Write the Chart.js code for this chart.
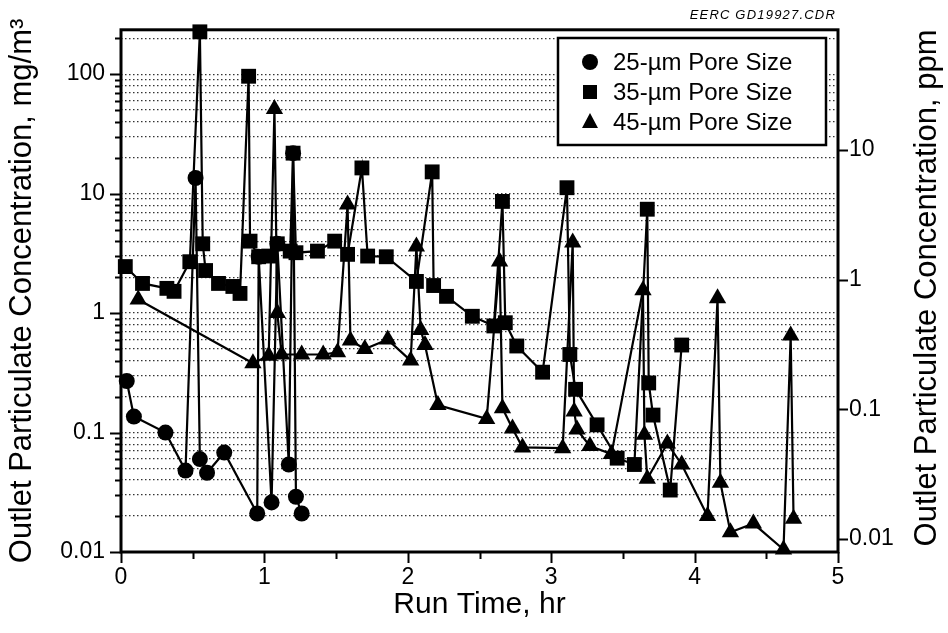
<!DOCTYPE html>
<html>
<head>
<meta charset="utf-8">
<script src="https://cdn.jsdelivr.net/npm/chart.js@4.4.0/dist/chart.umd.min.js"></script>
<style>
  html, body { margin: 0; padding: 0; background: #fff; }
</style>
</head>
<body>
<canvas id="chart" width="948" height="633"></canvas>
<script>
// run time (hr) and outlet concentration (mg/m3) per filter
const circleTime = [0.04, 0.09, 0.31, 0.45, 0.52, 0.55, 0.60, 0.72, 0.95, 0.96, 1.05, 1.09, 1.17, 1.20, 1.22, 1.26];
const circleConc = [0.27, 0.136, 0.10, 0.048, 13.5, 0.06, 0.046, 0.068, 0.021, 2.96, 0.026, 3.8, 0.054, 21.8, 0.029, 0.021];

const squareTime = [0.03, 0.15, 0.32, 0.37, 0.48, 0.55, 0.57, 0.59, 0.68, 0.78, 0.83, 0.89, 0.90, 0.96, 1.03, 1.09, 1.18, 1.20, 1.22, 1.37, 1.49, 1.58, 1.68, 1.72, 1.85, 2.06, 2.17, 2.18, 2.27, 2.45, 2.60, 2.66, 2.68, 2.76, 2.94, 3.11, 3.13, 3.17, 3.32, 3.46, 3.58, 3.67, 3.68, 3.71, 3.83, 3.91];
const squareConc = [2.45, 1.77, 1.61, 1.52, 2.69, 226, 3.8, 2.27, 1.77, 1.67, 1.46, 96, 4.0, 2.96, 3.0, 3.8, 3.3, 21.8, 3.2, 3.3, 4.0, 3.1, 16.4, 3.0, 2.96, 1.84, 15.2, 1.70, 1.38, 0.94, 0.78, 8.6, 0.83, 0.53, 0.32, 11.2, 0.45, 0.23, 0.116, 0.061, 0.054, 7.4, 0.26, 0.14, 0.033, 0.54];

const triTime = [0.12, 0.92, 1.03, 1.07, 1.09, 1.12, 1.26, 1.41, 1.51, 1.58, 1.60, 1.70, 1.86, 2.02, 2.06, 2.09, 2.12, 2.21, 2.55, 2.64, 2.66, 2.73, 2.80, 3.08, 3.15, 3.16, 3.18, 3.27, 3.42, 3.64, 3.65, 3.67, 3.81, 3.91, 4.09, 4.16, 4.18, 4.25, 4.41, 4.62, 4.67, 4.69];
const triConc = [1.3, 0.38, 0.44, 51, 1.0, 0.45, 0.45, 0.45, 0.47, 8.1, 0.59, 0.50, 0.60, 0.40, 3.6, 0.72, 0.54, 0.17, 0.13, 2.7, 0.16, 0.108, 0.075, 0.074, 3.9, 0.15, 0.106, 0.077, 0.066, 1.55, 0.096, 0.041, 0.081, 0.054, 0.020, 1.33, 0.038, 0.0146, 0.0173, 0.0105, 0.65, 0.019];

const seriesNames = ['25-\u00b5m Pore Size', '35-\u00b5m Pore Size', '45-\u00b5m Pore Size'];
const xMajor = [0, 1, 2, 3, 4, 5];
const leftDecades = [0.01, 0.1, 1, 10, 100];
const rightDecades = [0.01, 0.1, 1, 10];

const FONT = "'Liberation Sans', Arial, Helvetica, sans-serif";

function near(v, list) {
    return list.some(d => Math.abs(Math.log10(v) - Math.log10(d)) < 1e-6);
}
function mantissaIsInt(v) {
    const m = v / Math.pow(10, Math.floor(Math.log10(v) + 1e-9));
    return Math.abs(m - Math.round(m)) < 1e-6;
}
function fmt(v) {
    const e = Math.round(Math.log10(v));
    return e >= 0 ? String(Math.round(v)) : v.toFixed(-e);
}
function toPoints(ts, vs) { return ts.map((t, i) => ({ x: t, y: vs[i] })); }

// ticks, frame, legend and the ppm title
const decorPlugin = {
    id: 'decor',
    afterDraw(chart) {
        const ctx = chart.ctx;
        const a = chart.chartArea;
        const xs = chart.scales.x, yl = chart.scales.y, yr = chart.scales.y2;
        ctx.save();
        ctx.strokeStyle = '#000';
        ctx.fillStyle = '#000';
        ctx.lineWidth = 2;
        ctx.beginPath();
        yl.ticks.forEach(t => {
            if (!mantissaIsInt(t.value)) return;
            const y = Math.round(yl.getPixelForValue(t.value)) + 0.5;
            const len = near(t.value, leftDecades) ? 11 : 6;
            ctx.moveTo(a.left - len, y); ctx.lineTo(a.left, y);
        });
        rightDecades.forEach(v => {
            const y = Math.round(yr.getPixelForValue(v)) + 0.5;
            ctx.moveTo(a.right, y); ctx.lineTo(a.right + 10, y);
        });
        xs.ticks.forEach(t => {
            const x = Math.round(xs.getPixelForValue(t.value)) + 0.5;
            const len = xMajor.includes(t.value) ? 11 : 7;
            ctx.moveTo(x, a.bottom); ctx.lineTo(x, a.bottom + len);
        });
        ctx.stroke();

        ctx.lineWidth = 3;
        ctx.strokeRect(a.left, a.top, a.right - a.left, a.bottom - a.top);

        // legend
        const lx = 558, ly = 38, lw = 268, lh = 107;
        ctx.fillStyle = '#fff';
        ctx.fillRect(lx, ly, lw, lh);
        ctx.lineWidth = 2.5;
        ctx.strokeRect(lx, ly, lw, lh);
        ctx.fillStyle = '#000';
        ctx.font = '24px ' + FONT;
        ctx.textBaseline = 'middle';
        ctx.textAlign = 'left';
        const rows = [62, 92, 122];
        rows.forEach((y, i) => {
            const mx = 590;
            ctx.beginPath();
            if (i === 0) {
                ctx.arc(mx, y, 8, 0, Math.PI * 2);
            } else if (i === 1) {
                ctx.rect(mx - 7, y - 7, 14, 14);
            } else {
                ctx.moveTo(mx, y - 9); ctx.lineTo(mx + 8, y + 6); ctx.lineTo(mx - 8, y + 6); ctx.closePath();
            }
            ctx.fill();
            ctx.fillText(seriesNames[i], 613, y + 1);
        });

        // right axis title, reading bottom to top
        ctx.save();
        ctx.translate(927, 288);
        ctx.rotate(-Math.PI / 2);
        ctx.textAlign = 'center';
        ctx.textBaseline = 'middle';
        ctx.font = '31px ' + FONT;
        ctx.fillText('Outlet Particulate Concentration, ppm', 0, 0);
        ctx.restore();

        // drawing id
        ctx.font = 'italic 13px ' + FONT;
        ctx.letterSpacing = '1.2px';
        ctx.textAlign = 'right';
        ctx.textBaseline = 'alphabetic';
        ctx.fillText('EERC GD19927.CDR', 836, 19);
        ctx.restore();
    }
};

Chart.defaults.color = '#000';
Chart.defaults.font.family = FONT;

const common = {
    showLine: true,
    tension: 0,
    borderColor: '#000',
    backgroundColor: '#000',
    pointBackgroundColor: '#000',
    pointBorderColor: '#000',
    borderWidth: 2.2,
    pointBorderWidth: 0,
    clip: false
};

new Chart(document.getElementById('chart'), {
    type: 'line',
    data: {
        datasets: [
            Object.assign({ label: seriesNames[0], data: toPoints(circleTime, circleConc), pointStyle: 'circle', pointRadius: 8, order: 2 }, common),
            Object.assign({ label: seriesNames[1], data: toPoints(squareTime, squareConc), pointStyle: 'rect', pointRadius: 10.5, order: 1 }, common),
            Object.assign({ label: seriesNames[2], data: toPoints(triTime, triConc), pointStyle: 'triangle', pointRadius: 10, order: 0 }, common)
        ]
    },
    options: {
        responsive: false,
        animation: false,
        events: [],
        layout: { padding: { top: 23, left: 0, right: 0, bottom: 0 } },
        plugins: { legend: { display: false }, tooltip: { enabled: false } },
        scales: {
            x: {
                type: 'linear',
                min: 0, max: 5,
                afterFit: s => { s.height = 81; },
                grid: { display: false, drawTicks: false },
                border: { display: false },
                ticks: {
                    stepSize: 0.5,
                    autoSkip: false,
                    maxRotation: 0,
                    padding: 12,
                    font: { size: 23 },
                    callback: v => xMajor.includes(v) ? String(v) : ''
                },
                title: { display: true, text: 'Run Time, hr', font: { size: 30 }, padding: { top: 0, bottom: 10 } }
            },
            y: {
                type: 'logarithmic',
                position: 'left',
                min: 0.01, max: 235,
                afterFit: s => { s.width = 121; },
                grid: {
                    drawTicks: false,
                    lineWidth: 1.2,
                    color: c => (c.tick && mantissaIsInt(c.tick.value)) ? 'rgba(0,0,0,0.8)' : 'rgba(0,0,0,0)'
                },
                border: { display: false, dash: [1.5, 2.5] },
                ticks: {
                    autoSkip: false,
                    padding: 16,
                    font: { size: 23 },
                    callback: v => near(v, leftDecades) ? fmt(v) : ''
                },
                title: { display: true, text: 'Outlet Particulate Concentration, mg/m\u00b3', font: { size: 31 }, padding: { top: 4, bottom: 0 } }
            },
            y2: {
                type: 'logarithmic',
                position: 'right',
                display: true,
                min: 0.00796, max: 84,
                afterFit: s => { s.width = 110; },
                grid: { display: false, drawTicks: false },
                border: { display: false },
                ticks: {
                    autoSkip: false,
                    padding: 11,
                    font: { size: 23 },
                    callback: v => near(v, rightDecades) ? fmt(v) : ''
                }
            }
        }
    },
    plugins: [decorPlugin]
});
</script>
</body>
</html>
